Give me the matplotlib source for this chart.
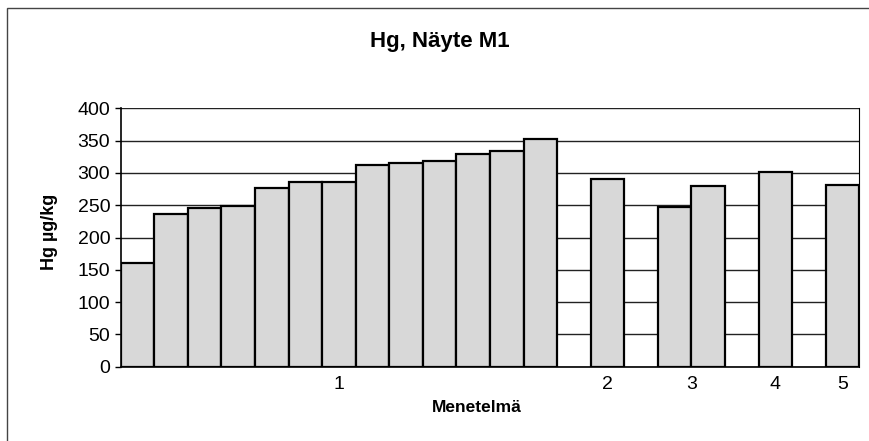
import numpy as np
import matplotlib.pyplot as plt
from matplotlib.patches import Rectangle

plt.rcParams['font.family'] = ['Liberation Sans', 'DejaVu Sans']

# Hg-pitoisuudet menetelmittäin (µg/kg)
menetelmat = ['1', '2', '3', '4', '5']
m1 = [161, 236, 245, 248, 276, 286, 286, 313, 315, 318, 329, 334, 352]
m2 = [290]
m3 = [247, 279]
m4 = [301]
m5 = [282]
ryhmat = [m1, m2, m3, m4, m5]
yticks = np.arange(0, 401, 50)

fig = plt.figure(figsize=(8.7, 4.41), dpi=100)
ax = fig.add_axes([0.1387, 0.1685, 0.8490, 0.5859])

# pylväät vierekkäin, ryhmien välissä yhden pylvään väli
x = 0
keskikohdat = []
for arvot in ryhmat:
    pos = x + np.arange(len(arvot))
    ax.bar(pos, arvot, width=1.0, align='edge', color='#d8d8d8',
           edgecolor='black', linewidth=1.6, zorder=3)
    keskikohdat.append(x + len(arvot) / 2)
    x += len(arvot) + 1
ax.set_xlim(0, x - 1)
ax.set_ylim(0, 400)

ax.set_yticks(yticks)
ax.yaxis.grid(True, color='#222222', linewidth=1.0, zorder=0)
ax.set_axisbelow(True)
ax.set_xticks(keskikohdat)
ax.set_xticklabels(menetelmat)
ax.tick_params(axis='x', length=0, labelsize=14, pad=7)
ax.tick_params(axis='y', length=4.5, width=1, labelsize=14, pad=3,
               direction='out')

ax.spines['top'].set_visible(False)
ax.spines['right'].set_linewidth(0.8)
ax.spines['left'].set_linewidth(1.2)
ax.spines['bottom'].set_linewidth(1.2)

ax.set_ylabel('Hg µg/kg', fontsize=13, fontweight='bold', va='center')
ax.yaxis.set_label_coords(-0.096, 0.52)
ax.set_xlabel('Menetelmä', fontsize=12.5, fontweight='bold', va='baseline')
ax.xaxis.set_label_coords(0.482, -0.175)
fig.text(0.505, 1 - 47 / 441, 'Hg, Näyte M1', ha='center', va='baseline',
         fontsize=16, fontweight='bold')

# kaavion kehys
fig.patches.append(Rectangle((7 / 870, -0.05), 1.0, 1 - 8 / 441 + 0.05,
                             transform=fig.transFigure, fill=False,
                             edgecolor='#444444', linewidth=1.0))

fig.savefig('out.png', dpi=100)
